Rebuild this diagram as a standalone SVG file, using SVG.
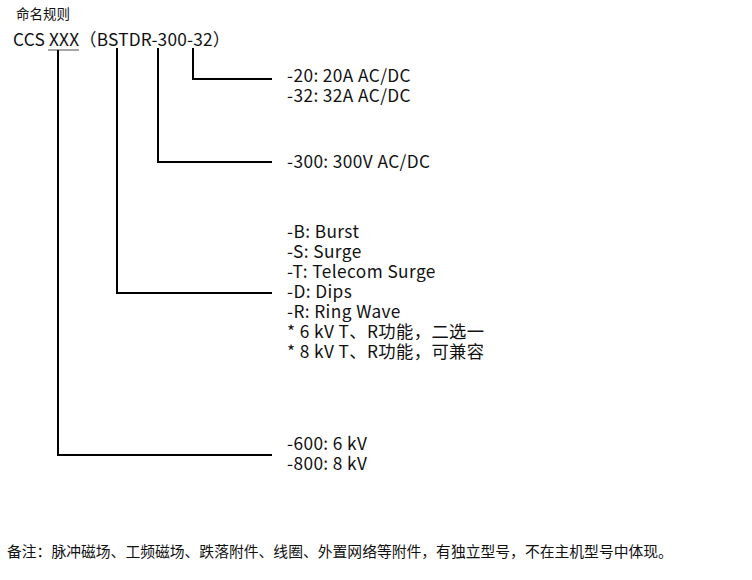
<svg xmlns="http://www.w3.org/2000/svg" width="752" height="580" viewBox="0 0 752 580">
<style>
text{font-family:"Noto Sans CJK SC","Noto Sans",sans-serif;fill:#111}
.t{font-size:17.3px;letter-spacing:0.4px}
.c line,.c polyline{stroke:#000;stroke-width:2;fill:none}
</style>
<rect width="752" height="580" fill="#fff"/>
<text x="16" y="19" font-size="13.5">命名规则</text>
<g id="code"><text class="t" x="13" y="46" style="letter-spacing:0.2px">CCS XXX（BSTDR-300-32）</text></g>
<g class="c" id="connectors">
<line x1="48" y1="50" x2="79" y2="50" style="stroke:#888;stroke-width:1.5"/>
<polyline points="193,48 193,79 272,79"/>
<polyline points="158,48 158,162 272,162"/>
<polyline points="117,48 117,293 272,293"/>
<polyline points="58,50 58,455 272,455"/>
</g>
<g id="n1"><text class="t" x="287" y="82">-20:  20A AC/DC</text><text class="t" x="287" y="102">-32:  32A AC/DC</text></g>
<g id="n2"><text class="t" x="287" y="168">-300: 300V AC/DC</text></g>
<g id="n3">
<text class="t" x="287" y="238">-B: Burst</text>
<text class="t" x="287" y="258">-S: Surge</text>
<text class="t" x="287" y="278">-T: Telecom Surge</text>
<text class="t" x="287" y="298">-D: Dips</text>
<text class="t" x="287" y="318">-R: Ring Wave</text>
<text class="t" x="287" y="338">* 6 kV T、R功能，二选一</text>
<text class="t" x="287" y="358">* 8 kV T、R功能，可兼容</text>
</g>
<g id="n4"><text class="t" x="287" y="450">-600: 6 kV</text><text class="t" x="287" y="470">-800: 8 kV</text></g>
<text x="7" y="557" font-size="14.8">备注：脉冲磁场、工频磁场、跌落附件、线圈、外置网络等附件，有独立型号，不在主机型号中体现。</text>
</svg>
